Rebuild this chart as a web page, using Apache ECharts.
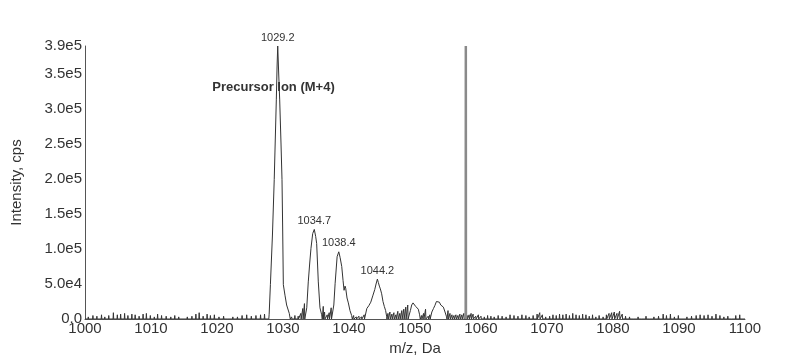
<!DOCTYPE html>
<html>
<head>
<meta charset="utf-8">
<script src="https://cdn.jsdelivr.net/npm/echarts@6/dist/echarts.min.js"></script>
<style>html,body{margin:0;padding:0;background:#fff;}#c{width:796px;height:362px;}</style>
</head>
<body>
<div id="c"></div>
<script>
// ---- data ----
const xTicks = [1000, 1010, 1020, 1030, 1040, 1050, 1060, 1070, 1080, 1090, 1100];
const yTickLabels = ['0.0', '5.0e4', '1.0e5', '1.5e5', '2.0e5', '2.5e5', '3.0e5', '3.5e5', '3.9e5'];

// peak / hump profiles [m/z, intensity]
const peak1029 = [[1027.85,0],[1027.9,6000],[1028.09,49000],[1028.4,120000],[1028.67,199000],[1028.99,314000],[1029.1,360000],[1029.2,390000],[1029.35,350000],[1029.5,313000],[1029.7,250000],[1029.85,199000],[1029.95,130000],[1030.05,49000],[1030.3,34000],[1030.55,20000],[1030.95,8000],[1031.1,0]];
const peak1034 = [[1033.45,0],[1033.6,16000],[1033.83,53000],[1034.05,80000],[1034.24,101000],[1034.5,122000],[1034.74,128000],[1034.95,118000],[1035.1,108000],[1035.35,53000],[1035.6,16000],[1035.86,6000],[1035.95,0]];
const peak1038 = [[1037.55,0],[1037.7,20000],[1037.9,51000],[1038.2,89000],[1038.45,96000],[1038.65,88000],[1038.9,75000],[1039.1,55000],[1039.25,41000],[1039.4,47000],[1039.5,44000],[1039.7,30000],[1039.9,23000],[1040.15,12000],[1040.4,5000],[1040.5,0]];
const peak1044 = [[1042.55,0],[1042.7,15000],[1043.0,19000],[1043.3,24000],[1043.6,33000],[1043.9,42000],[1044.1,50000],[1044.3,57000],[1044.45,52000],[1044.6,47000],[1044.75,43000],[1044.95,36000],[1045.15,25000],[1045.35,18000],[1045.55,12000],[1045.7,4000],[1045.75,0]];
const hump1050 = [[1049.15,0],[1049.3,12000],[1049.5,20000],[1049.7,23000],[1049.9,21000],[1050.1,18000],[1050.3,20000],[1050.5,14000],[1050.7,6000],[1050.8,0]];
const hump1053 = [[1052.45,0],[1052.55,10000],[1052.8,15000],[1053.0,19000],[1053.25,25000],[1053.45,27000],[1053.7,24000],[1053.9,20000],[1054.1,22000],[1054.3,17000],[1054.55,10000],[1054.75,4000],[1054.85,0]];

// baseline noise sticks
const noiseMz = [1000.5,1001.2,1001.8,1002.5,1003.0,1003.6,1004.3,1004.9,1005.4,1006.0,1006.5,1007.1,1007.6,1008.2,1008.8,1009.3,1009.9,1010.5,1011.0,1011.6,1012.3,1013.0,1013.6,1014.2,1014.9,1015.5,1016.2,1016.8,1017.3,1017.9,1018.5,1019.0,1019.6,1020.3,1021.0,1021.7,1022.4,1023.1,1023.8,1024.5,1025.2,1025.9,1026.6,1027.2,
  1031.3,1031.8,1032.3,1032.7,1033.0,1033.25,
  1036.1,1036.3,1036.7,1037.0,1037.3,
  1040.7,1041.1,1041.5,1041.9,1042.3,
  1045.9,1046.2,1046.5,1046.8,1047.1,1047.4,1047.7,1048.0,1048.3,1048.6,1048.9,
  1051.0,1051.3,1051.6,1052.0,1052.25,
  1055.0,1055.3,1055.6,1055.9,1056.2,1056.5,1056.8,1057.1,1057.4,
  1057.9,1058.2,1058.5,1058.8,1059.2,1059.6,1060.0,1060.5,1061.0,1061.5,1062.0,1062.6,1063.2,1063.8,1064.4,1065.0,1065.6,1066.2,1066.8,1067.3,1067.9,1068.5,1068.9,1069.3,1069.8,1070.4,1070.9,1071.4,1071.9,1072.4,1072.9,1073.4,1073.9,1074.4,1074.9,1075.4,1075.9,1076.4,1076.9,1077.4,1077.9,1078.5,1079.0,1079.4,1079.8,1080.2,1080.6,1081.0,1081.4,1081.9,1082.5,1083.1,1083.8,1084.4,1085.0,1085.6,1086.2,1086.9,1087.6,1088.1,1088.7,1089.3,1089.9,1090.5,1091.2,1091.9,1092.6,1093.2,1093.8,1094.4,1095.0,1095.6,1096.2,1096.8,1097.4,1098.0,1098.6,1099.2];
const noiseInt = [3000,5000,4000,6000,3000,5000,9000,6000,7000,8000,5000,7000,6000,4000,7000,8000,5000,3000,7000,5000,4000,3000,5000,3000,2000,3000,4000,7000,9000,4000,7000,5000,6000,3000,4000,2000,3000,3000,5000,6000,4000,5000,6000,7000,
  3000,5000,4000,8000,15000,22000,
  18000,10000,6000,9000,16000,
  5000,3000,4000,3000,6000,
  8000,10000,7000,9000,6000,11000,8000,12000,14000,17000,20000,
  5000,8000,14000,4000,6000,
  12000,8000,6000,5000,6000,5000,7000,6000,8000,
  5000,6000,8000,7000,4000,6000,4000,3000,5000,4000,3000,5000,4000,3000,6000,5000,4000,6000,5000,3000,5000,7000,9000,6000,3000,4000,6000,5000,7000,6000,7000,5000,8000,6000,5000,7000,6000,4000,6000,3000,5000,3000,6000,8000,9000,10000,8000,11000,7000,4000,3000,2000,3000,2000,4000,2000,3000,4000,7000,5000,7000,3000,5000,2000,3000,4000,5000,6000,5000,6000,4000,7000,5000,3000,4000,2000,5000,6000];

// tall grey spike
const spikeMz = 1057.7;
const spikeInt = 390000;

// annotations
const peakLabels = [
  {mz: 1029.2, v: 390000, text: '1029.2'},
  {mz: 1034.74, v: 128000, text: '1034.7'},
  {mz: 1038.45, v: 96000, text: '1038.4'},
  {mz: 1044.3, v: 57000, text: '1044.2'}
];
const precursorNote = {mz: 1028.56, v: 331000, text: 'Precursor Ion (M+4)'};

// ---- build trace ----
let trace = [[1000, 0], [1100, 0]];
[peak1029, peak1034, peak1038, peak1044, hump1050, hump1053].forEach(p => { trace = trace.concat(p); });
noiseMz.forEach((m, i) => {
  trace.push([m - 0.05, 0], [m, noiseInt[i]], [m + 0.05, 0]);
});
trace.sort((a, b) => a[0] - b[0]);
const spikeData = [[spikeMz - 0.02, 0], [spikeMz, spikeInt], [spikeMz + 0.02, 0]];

const FONT = '"Liberation Sans", Arial, sans-serif';
const chart = echarts.init(document.getElementById('c'), null, {renderer: 'canvas'});
chart.setOption({
  animation: false,
  backgroundColor: '#fff',
  grid: {left: 85, right: 51, top: 46, bottom: 43, containLabel: false},
  xAxis: {
    type: 'value', min: 1000, max: 1100, interval: 10,
    name: 'm/z, Da', nameLocation: 'middle', nameGap: 17,
    nameTextStyle: {fontFamily: FONT, fontSize: 15, color: '#333'},
    axisLine: {show: true, onZero: false, lineStyle: {color: '#555', width: 1}},
    axisTick: {show: false},
    splitLine: {show: false},
    axisLabel: {fontFamily: FONT, fontSize: 15, color: '#333', margin: 2,
      formatter: v => xTicks.indexOf(v) >= 0 ? String(v) : ''}
  },
  yAxis: {
    type: 'value', min: 0, max: 390000, interval: 50000,
    name: 'Intensity, cps', nameLocation: 'middle', nameGap: 61, nameRotate: 90,
    nameTextStyle: {fontFamily: FONT, fontSize: 15, color: '#333'},
    axisLine: {show: true, lineStyle: {color: '#555', width: 1}},
    axisTick: {show: false},
    splitLine: {show: false},
    axisLabel: {fontFamily: FONT, fontSize: 15, color: '#333', margin: 3, showMaxLabel: true,
      formatter: v => {
        if (v === 390000) return yTickLabels[8];
        const i = Math.round(v / 50000);
        return yTickLabels[i] !== undefined ? yTickLabels[i] : '';
      }}
  },
  series: [
    {
      type: 'line', data: trace, showSymbol: false, symbol: 'none',
      lineStyle: {color: '#333', width: 1}, clip: true,
      markPoint: {
        symbol: 'circle', symbolSize: 0, silent: true,
        data: peakLabels.map(p => ({
          coord: [p.mz, p.v], value: p.text,
          label: {show: true, position: 'top', distance: 3, formatter: p.text,
            fontFamily: FONT, fontSize: 11, color: '#333'}
        })).concat([{
          coord: [precursorNote.mz, precursorNote.v], value: precursorNote.text,
          label: {show: true, position: 'inside', formatter: precursorNote.text,
            fontFamily: FONT, fontSize: 13, fontWeight: 'bold', color: '#333'}
        }])
      }
    },
    {
      type: 'line', data: spikeData, showSymbol: false, symbol: 'none',
      lineStyle: {color: '#8a8a8a', width: 2.5}
    }
  ]
});
</script>
</body>
</html>
